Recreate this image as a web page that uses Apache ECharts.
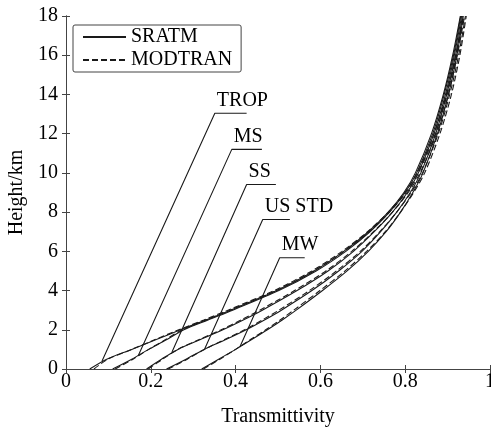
<!DOCTYPE html>
<html>
<head>
<meta charset="utf-8">
<script src="https://cdn.jsdelivr.net/npm/echarts@6/dist/echarts.min.js"></script>
<style>html,body{margin:0;padding:0;background:#fff;}#c{width:491px;height:430px;}</style>
</head>
<body>
<div id="c"></div>
<script>
// Heights (km) at which transmittance is read
var heights = [0, 0.5, 1, 1.5, 2, 2.5, 3, 4, 5, 6, 7, 8, 9, 10, 12, 14, 16, 18];
var atmospheres = ['TROP', 'MS', 'SS', 'US STD', 'MW'];
// SRATM transmittance (solid)
var sratmTROP = [0.056, 0.096, 0.155, 0.213, 0.27, 0.33, 0.388, 0.497, 0.585, 0.655, 0.713, 0.76, 0.797, 0.824, 0.862, 0.89, 0.912, 0.93];
var sratmMS   = [0.11, 0.155, 0.195, 0.238, 0.278, 0.335, 0.393, 0.502, 0.59, 0.66, 0.717, 0.763, 0.80, 0.827, 0.865, 0.892, 0.914, 0.931];
var sratmSS   = [0.19, 0.225, 0.264, 0.317, 0.37, 0.418, 0.463, 0.545, 0.618, 0.678, 0.727, 0.77, 0.805, 0.831, 0.868, 0.895, 0.916, 0.933];
var sratmUS   = [0.237, 0.283, 0.326, 0.377, 0.425, 0.468, 0.508, 0.58, 0.643, 0.698, 0.742, 0.78, 0.812, 0.837, 0.872, 0.898, 0.919, 0.935];
var sratmMW   = [0.32, 0.36, 0.40, 0.438, 0.475, 0.51, 0.543, 0.605, 0.663, 0.713, 0.755, 0.789, 0.818, 0.842, 0.876, 0.902, 0.922, 0.937];
// MODTRAN transmittance (dashed)
var modTROP = [0.066, 0.099, 0.155, 0.21, 0.266, 0.325, 0.382, 0.491, 0.58, 0.651, 0.711, 0.76, 0.799, 0.828, 0.868, 0.897, 0.919, 0.937];
var modMS   = [0.116, 0.158, 0.195, 0.235, 0.274, 0.33, 0.387, 0.496, 0.585, 0.656, 0.715, 0.763, 0.802, 0.831, 0.871, 0.899, 0.921, 0.938];
var modSS   = [0.194, 0.228, 0.264, 0.314, 0.366, 0.413, 0.457, 0.539, 0.613, 0.674, 0.725, 0.77, 0.807, 0.835, 0.874, 0.902, 0.923, 0.94];
var modUS   = [0.241, 0.286, 0.326, 0.374, 0.421, 0.463, 0.502, 0.574, 0.638, 0.694, 0.74, 0.78, 0.814, 0.841, 0.878, 0.905, 0.926, 0.942];
var modMW   = [0.324, 0.363, 0.40, 0.435, 0.471, 0.505, 0.537, 0.599, 0.658, 0.709, 0.753, 0.789, 0.82, 0.846, 0.882, 0.909, 0.929, 0.944];
// Annotation leader lines (data coordinates)
var annEndX    = [0.085, 0.17, 0.25, 0.327, 0.41];
var annEndH    = [0.41, 0.66, 0.87, 1.02, 1.12];
var annCornerX = [0.351, 0.391, 0.426, 0.464, 0.504];
var annCornerH = [13.04, 11.2, 9.41, 7.62, 5.67];
var annBarEndX = [0.426, 0.462, 0.495, 0.528, 0.563];
// Tick labels
var xTicks = ['0', '0.2', '0.4', '0.6', '0.8', '1'];
var yTicks = ['0', '2', '4', '6', '8', '10', '12', '14', '16', '18'];

var FONT = 'Liberation Serif';
var INK = '#1a1a1a';

function pairs(arr) { return arr.map(function (v, i) { return [v, heights[i]]; }); }

var sratmSets = [sratmTROP, sratmMS, sratmSS, sratmUS, sratmMW];
var modSets = [modTROP, modMS, modSS, modUS, modMW];
var series = [];
sratmSets.forEach(function (a) {
  series.push({ name: 'SRATM', type: 'line', data: pairs(a), symbol: 'circle', showSymbol: false, smooth: 0.3,
    lineStyle: { color: INK, width: 1.1, type: 'solid' }, itemStyle: { color: INK }, z: 3 });
});
modSets.forEach(function (a) {
  series.push({ name: 'MODTRAN', type: 'line', data: pairs(a), symbol: 'circle', showSymbol: false, smooth: 0.3,
    lineStyle: { color: INK, width: 1.1, type: [6, 3] }, itemStyle: { color: INK }, z: 3 });
});
atmospheres.forEach(function (name, i) {
  series.push({ name: 'ann' + i, type: 'line', symbol: 'none', silent: true, z: 4,
    lineStyle: { color: INK, width: 1.1 },
    data: [[annEndX[i], annEndH[i]], [annCornerX[i], annCornerH[i]], [annBarEndX[i], annCornerH[i]]] });
});
series.push({ name: 'annLabels', type: 'scatter', silent: true, symbolSize: 0, z: 5,
  itemStyle: { color: INK, opacity: 1 },
  label: { show: true, position: 'top', align: 'left', distance: 3, offset: [2, 0],
    fontFamily: FONT, fontSize: 20, color: '#000', opacity: 1, textBorderWidth: 0,
    formatter: function (p) { return atmospheres[p.dataIndex]; } },
  data: annCornerX.map(function (x, i) { return [x, annCornerH[i]]; }) });

var chart = echarts.init(document.getElementById('c'));
chart.setOption({
  animation: false,
  backgroundColor: '#fff',
  grid: { left: 66, right: 1, top: 16, bottom: 61, outerBoundsMode: 'none', containLabel: false },
  legend: {
    data: ['SRATM', 'MODTRAN'], orient: 'vertical', left: 73, top: 25,
    itemWidth: 43, itemHeight: 14, itemGap: 3, padding: [2, 9, 2, 9],
    itemStyle: { opacity: 0 },
    borderColor: '#444', borderWidth: 1, borderRadius: 2, backgroundColor: '#fff',
    textStyle: { fontFamily: FONT, fontSize: 20, color: '#000' },
    selectedMode: false
  },
  xAxis: [
    { type: 'value', min: 0, max: 1, interval: 0.2, name: 'Transmittivity', nameLocation: 'middle', nameGap: 38,
      nameTextStyle: { fontFamily: FONT, fontSize: 20, color: '#000' },
      axisLine: { lineStyle: { color: '#444' } }, axisTick: { inside: true, length: 4, lineStyle: { color: '#444' } },
      axisLabel: { fontFamily: FONT, fontSize: 20, color: '#000', margin: 3,
        formatter: function (v) { return xTicks[Math.round(v / 0.2)]; } },
      splitLine: { show: false } },
    { type: 'value', position: 'top', min: 0, max: 1, interval: 0.2,
      axisLine: { show: true, lineStyle: { color: '#444' } }, axisTick: { show: true, inside: true, length: 4, lineStyle: { color: '#444' } },
      axisLabel: { show: false }, splitLine: { show: false } }
  ],
  yAxis: [
    { type: 'value', min: 0, max: 18, interval: 2, name: 'Height/km', nameLocation: 'middle', nameGap: 37, nameRotate: 90,
      nameTextStyle: { fontFamily: FONT, fontSize: 20, color: '#000' },
      axisLine: { show: true, lineStyle: { color: '#444' } }, axisTick: { show: true, inside: true, length: 4, lineStyle: { color: '#444' } },
      axisLabel: { fontFamily: FONT, fontSize: 20, color: '#000', margin: 8,
        formatter: function (v) { return yTicks[Math.round(v / 2)]; } },
      splitLine: { show: false } },
    { type: 'value', position: 'right', min: 0, max: 18, interval: 2,
      axisLine: { show: true, lineStyle: { color: '#444' } }, axisTick: { show: true, inside: true, length: 4, lineStyle: { color: '#444' } },
      axisLabel: { show: false }, splitLine: { show: false } }
  ],
  series: series
});
</script>
</body>
</html>
